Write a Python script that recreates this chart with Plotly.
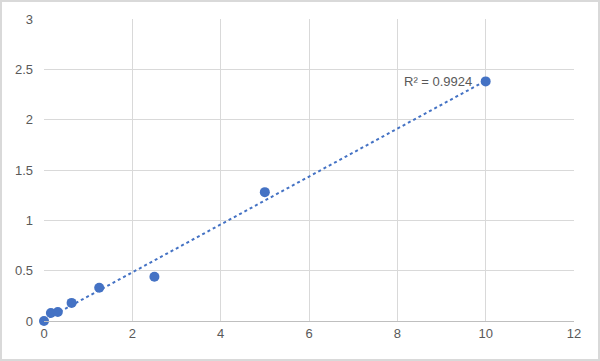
import numpy as np
import plotly.graph_objects as go

conc = [0, 0.156, 0.3125, 0.625, 1.25, 2.5, 5, 10]
od = [0.0, 0.08, 0.09, 0.18, 0.33, 0.44, 1.28, 2.38]
x_ticks = [0, 2, 4, 6, 8, 10, 12]
y_ticks = [0, 0.5, 1, 1.5, 2, 2.5, 3]
r2_label = "R² = 0.9924"

slope, intercept = np.polyfit(conc, od, 1)
fit_x = [min(conc), max(conc)]
fit_y = [slope * v + intercept for v in fit_x]

W, H = 600, 361
ml, mr, mt, mb = 44, 26, 19, 40
pw, ph = W - ml - mr, H - mt - mb

fig = go.Figure()
fig.add_trace(go.Scatter(x=fit_x, y=fit_y, mode="lines",
                         line=dict(color="#4472C4", width=2, dash="dot"),
                         hoverinfo="skip", showlegend=False, cliponaxis=False))
fig.add_trace(go.Scatter(x=conc, y=od, mode="markers",
                         marker=dict(color="#4472C4", size=10),
                         showlegend=False, cliponaxis=False))

fig.add_annotation(x=max(conc), y=od[-1], text=r2_label, showarrow=False,
                   xanchor="right", yanchor="middle", xshift=-12,
                   font=dict(color="#595959", size=13))

fig.add_shape(type="rect", xref="paper", yref="paper",
              x0=-(ml - 1) / pw, x1=1 + (mr - 1) / pw,
              y0=-(mb - 1) / ph, y1=1 + (mt - 1) / ph,
              line=dict(color="#d9d9d9", width=2), layer="below")

fig.update_layout(
    width=W, height=H,
    margin=dict(l=ml, r=mr, t=mt, b=mb),
    paper_bgcolor="white", plot_bgcolor="white",
    font=dict(family="Liberation Sans, Arial, sans-serif", size=13, color="#595959"),
    xaxis=dict(range=[0, 12], tickvals=x_ticks, showgrid=True, gridcolor="#d9d9d9",
               gridwidth=1, zeroline=False, showline=True, linecolor="#bfbfbf",
               linewidth=1, ticks="", tickfont=dict(size=13, color="#595959")),
    yaxis=dict(range=[0, 3], tickvals=y_ticks, showgrid=True, gridcolor="#d9d9d9",
               gridwidth=1, zeroline=False, showline=False, ticks="",
               ticklabelstandoff=10, tickfont=dict(size=13, color="#595959")),
)

fig.write_html("out.html")
